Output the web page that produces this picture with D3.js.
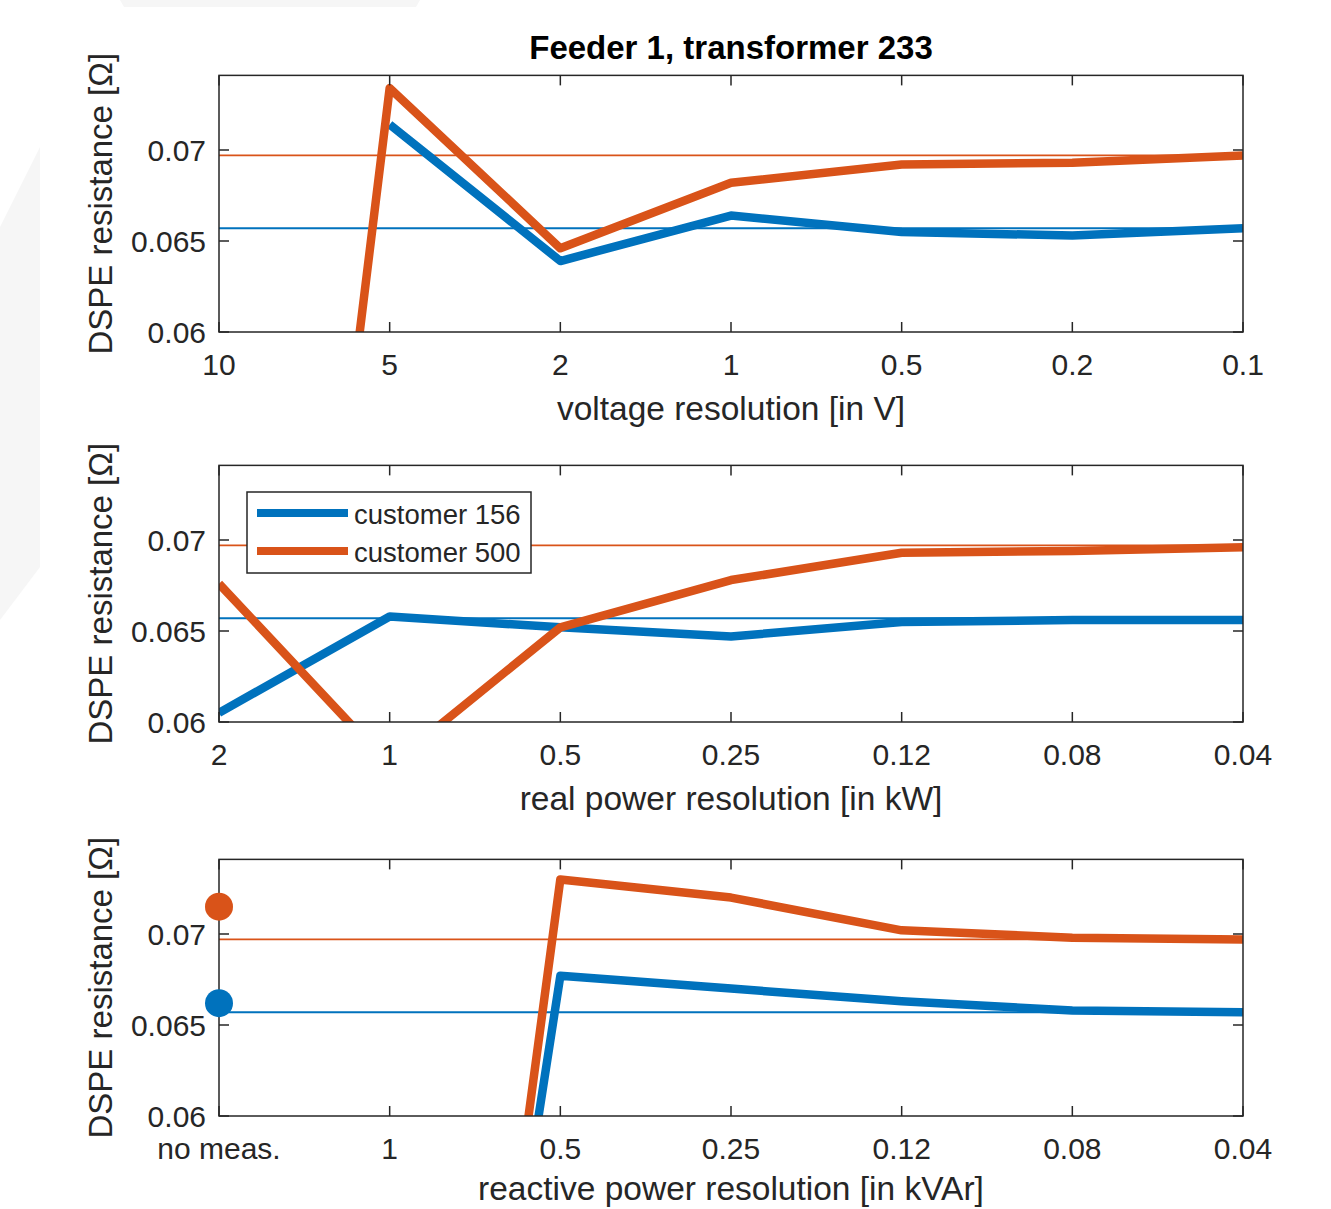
<!DOCTYPE html>
<html lang="en">

<head>
  <meta charset="UTF-8">
  <title>Feeder 1, transformer 233</title>
  <script src="https://d3js.org/d3.v7.min.js"></script>
  <style>
    body { margin: 0; background: #fff; }
    text { font-family: "Liberation Sans", Arial, sans-serif; fill: #262626; }
  </style>
</head>

<body>
  <div id="root"></div>
  <script>
    // x categories (equally spaced, read left to right)
    const voltageLabels = ['10', '5', '2', '1', '0.5', '0.2', '0.1'];
    const realLabels = ['2', '1', '0.5', '0.25', '0.12', '0.08', '0.04'];
    const reactiveLabels = ['no meas.', '1', '0.5', '0.25', '0.12', '0.08', '0.04'];

    // DSPE resistance, customer 156 / customer 500 (null = not plotted)
    const voltageC156 = [null, 0.0714, 0.0639, 0.0664, 0.0655, 0.0653, 0.0657];
    const voltageC500 = [-0.003, 0.0734, 0.0646, 0.0682, 0.0692, 0.0693, 0.0697];
    const realC156 = [0.0605, 0.0658, 0.0652, 0.0647, 0.0655, 0.0656, 0.0656];
    const realC500 = [0.0676, 0.0576, 0.0652, 0.0678, 0.0693, 0.0694, 0.0696];
    const reactiveC156 = [null, 0.0072, 0.0677, 0.0670, 0.0663, 0.0658, 0.0657];
    const reactiveC500 = [null, 0.0032, 0.0730, 0.0720, 0.0702, 0.0698, 0.0697];
    const noMeasC156 = 0.0662;
    const noMeasC500 = 0.0715;

    // true values (thin horizontal lines)
    const refC156 = 0.0657;
    const refC500 = 0.0697;

    const yTicks = [0.06, 0.065, 0.07];
    const yDomain = [0.06, 0.0741];

    const blue = '#0072BD';
    const orange = '#D95319';

    const width = 1331, height = 1209;
    const left = 219, right = 1243;

    const svg = d3.select('#root').append('svg')
      .attr('width', width).attr('height', height);

    // faint page background shapes from the scan
    svg.append('polygon').attr('points', '0,227 40,147 40,567 0,620').attr('fill', '#f6f6f6');
    svg.append('polygon').attr('points', '120,0 420,0 416,7 124,7').attr('fill', '#f6f6f6');

    const x = d3.scalePoint().domain(d3.range(7)).range([left, right]);

    function panel(id, bottom, labels, c156, c500, xTitle, titleGap, dots) {
      const top = bottom - (yDomain[1] - yDomain[0]) * 18200;
      const y = d3.scaleLinear().domain(yDomain).range([bottom, top]);
      const g = svg.append('g');

      g.append('clipPath').attr('id', 'clip' + id)
        .append('rect').attr('x', left).attr('y', top)
        .attr('width', right - left).attr('height', bottom - top);

      const plot = g.append('g').attr('clip-path', `url(#clip${id})`);

      // reference lines
      [[refC500, orange], [refC156, blue]].forEach(([v, c]) => {
        plot.append('line')
          .attr('x1', left).attr('x2', right)
          .attr('y1', y(v)).attr('y2', y(v))
          .attr('stroke', c).attr('stroke-width', 1.8);
      });

      const line = d3.line()
        .defined(d => d != null)
        .x((d, i) => x(i))
        .y(d => y(d));

      [[c156, blue], [c500, orange]].forEach(([vals, c]) => {
        plot.append('path')
          .attr('d', line(vals))
          .attr('fill', 'none')
          .attr('stroke', c)
          .attr('stroke-width', 8.5)
          .attr('stroke-linejoin', 'round');
      });

      // box
      g.append('rect').attr('x', left).attr('y', top)
        .attr('width', right - left).attr('height', bottom - top)
        .attr('fill', 'none').attr('stroke', '#262626').attr('stroke-width', 1.5);

      // inward ticks on all four sides
      const tl = 10;
      x.domain().forEach(i => {
        g.append('line').attr('x1', x(i)).attr('x2', x(i)).attr('y1', bottom).attr('y2', bottom - tl)
          .attr('stroke', '#262626').attr('stroke-width', 1.5);
        g.append('line').attr('x1', x(i)).attr('x2', x(i)).attr('y1', top).attr('y2', top + tl)
          .attr('stroke', '#262626').attr('stroke-width', 1.5);
      });
      yTicks.forEach(t => {
        g.append('line').attr('x1', left).attr('x2', left + tl).attr('y1', y(t)).attr('y2', y(t))
          .attr('stroke', '#262626').attr('stroke-width', 1.5);
        g.append('line').attr('x1', right).attr('x2', right - tl).attr('y1', y(t)).attr('y2', y(t))
          .attr('stroke', '#262626').attr('stroke-width', 1.5);
      });

      // tick labels
      g.selectAll('.xt').data(labels).enter().append('text')
        .attr('x', (d, i) => x(i)).attr('y', bottom + 43)
        .attr('text-anchor', 'middle').attr('font-size', 30)
        .text(d => d);
      g.selectAll('.yt').data(yTicks).enter().append('text')
        .attr('x', left - 13).attr('y', d => y(d)).attr('dy', '0.36em')
        .attr('text-anchor', 'end').attr('font-size', 30)
        .text(d => String(d));

      // axis titles
      g.append('text').attr('x', (left + right) / 2).attr('y', bottom + titleGap)
        .attr('text-anchor', 'middle').attr('font-size', 33.5).text(xTitle);
      g.append('text')
        .attr('transform', `translate(112,${(top + bottom) / 2}) rotate(-90)`)
        .attr('text-anchor', 'middle').attr('font-size', 33)
        .text('DSPE resistance [\u03A9]');

      if (dots) {
        [[noMeasC500, orange], [noMeasC156, blue]].forEach(([v, c]) => {
          g.append('circle').attr('cx', x(0)).attr('cy', y(v)).attr('r', 14).attr('fill', c);
        });
      }
      return { top, bottom };
    }

    const p1 = panel(1, 332, voltageLabels, voltageC156, voltageC500, 'voltage resolution [in V]', 88, false);
    panel(2, 722, realLabels, realC156, realC500, 'real power resolution [in kW]', 88, false);
    panel(3, 1116, reactiveLabels, reactiveC156, reactiveC500, 'reactive power resolution [in kVAr]', 84, true);

    svg.append('text')
      .attr('x', (left + right) / 2).attr('y', p1.top - 16)
      .attr('text-anchor', 'middle').attr('font-size', 33).attr('font-weight', 'bold')
      .style('fill', '#000')
      .text('Feeder 1, transformer 233');

    // legend in the middle panel
    const lg = svg.append('g');
    lg.append('rect').attr('x', 247).attr('y', 492).attr('width', 284).attr('height', 81)
      .attr('fill', '#fff').attr('stroke', '#262626').attr('stroke-width', 1.5);
    [['customer 156', blue, 513], ['customer 500', orange, 551]].forEach(([name, c, ly]) => {
      lg.append('line').attr('x1', 257).attr('x2', 348).attr('y1', ly).attr('y2', ly)
        .attr('stroke', c).attr('stroke-width', 8);
      lg.append('text').attr('x', 354).attr('y', ly + 11).attr('font-size', 27.5).text(name);
    });
  </script>
</body>

</html>
